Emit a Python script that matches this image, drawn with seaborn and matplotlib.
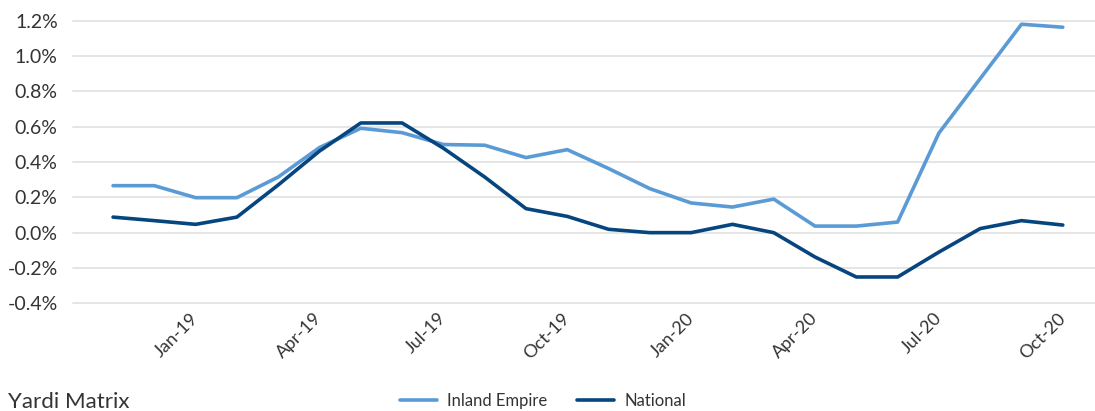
import matplotlib
matplotlib.use("Agg")
import matplotlib.pyplot as plt
import seaborn as sns
import pandas as pd

# Monthly rent growth, Nov-18 .. Oct-20
months = ["Nov-18", "Dec-18", "Jan-19", "Feb-19", "Mar-19", "Apr-19", "May-19", "Jun-19",
          "Jul-19", "Aug-19", "Sep-19", "Oct-19", "Nov-19", "Dec-19", "Jan-20", "Feb-20",
          "Mar-20", "Apr-20", "May-20", "Jun-20", "Jul-20", "Aug-20", "Sep-20", "Oct-20"]
inland_empire = [0.266, 0.266, 0.198, 0.198, 0.315, 0.482, 0.591, 0.566, 0.499, 0.495,
                 0.425, 0.470, 0.363, 0.249, 0.168, 0.145, 0.190, 0.037, 0.037, 0.060,
                 0.564, 0.872, 1.180, 1.163]
national = [0.088, 0.068, 0.047, 0.088, 0.270, 0.462, 0.621, 0.621, 0.478, 0.315,
            0.136, 0.092, 0.019, 0.000, 0.000, 0.047, 0.000, -0.138, -0.251, -0.251,
            -0.110, 0.023, 0.068, 0.043]
series_names = ["Inland Empire", "National"]
series_colors = ["#5B9BD5", "#07457F"]
tick_months = ["Jan-19", "Apr-19", "Jul-19", "Oct-19", "Jan-20", "Apr-20", "Jul-20", "Oct-20"]
y_ticks = [-0.4, -0.2, 0.0, 0.2, 0.4, 0.6, 0.8, 1.0, 1.2]

sns.set_style("white")
plt.rcParams["font.family"] = ["Lato", "DejaVu Sans"]
text_color = "#333333"

df = pd.concat([
    pd.DataFrame({"idx": range(len(months)), "value": inland_empire, "series": series_names[0]}),
    pd.DataFrame({"idx": range(len(months)), "value": national, "series": series_names[1]}),
])

fig = plt.figure(figsize=(10.95, 4.11), dpi=100)
ax = fig.add_axes([73 / 1095, 1 - 303.3 / 411, 1 - 73 / 1095, (303.3 - 20.7) / 411])

sns.lineplot(data=df, x="idx", y="value", hue="series", hue_order=series_names,
             palette=series_colors, linewidth=2.6, ax=ax, legend=False, zorder=3)

ax.set_xlim(-0.97, len(months) - 1 + 0.78)
ax.set_ylim(-0.4, 1.2)
ax.set_yticks(y_ticks)
ax.set_yticklabels([f"{v:.1f}%" for v in y_ticks])
ax.yaxis.grid(True, color="#e3e3e3", linewidth=1.3)
ax.xaxis.grid(False)
for gl in ax.get_ygridlines():
    gl.set_clip_on(False)
for s in ax.spines.values():
    s.set_visible(False)

tick_pos = [months.index(m) for m in tick_months]
ax.set_xticks(tick_pos)
ax.set_xticklabels(tick_months, rotation=45, ha="right", va="center", rotation_mode="anchor")
ax.tick_params(axis="x", length=0, pad=9, labelsize=13, labelcolor=text_color)
ax.tick_params(axis="y", length=0, pad=11, labelsize=14, labelcolor=text_color)
ax.set_xlabel("")
ax.set_ylabel("")

handles = [plt.Line2D([], [], color=c, linewidth=2.6) for c in series_colors]
fig.legend(handles, series_names, loc="center", bbox_to_anchor=(0.496, 1 - 401 / 411),
           ncol=2, frameon=False, fontsize=12, handlelength=2.2, columnspacing=1.8,
           handletextpad=0.6, labelcolor=text_color)

fig.text(8 / 1095, 1 - 402 / 411, "Yardi Matrix", fontsize=16, color=text_color,
         ha="left", va="center")

fig.savefig("out.png", dpi=100, facecolor="white")
